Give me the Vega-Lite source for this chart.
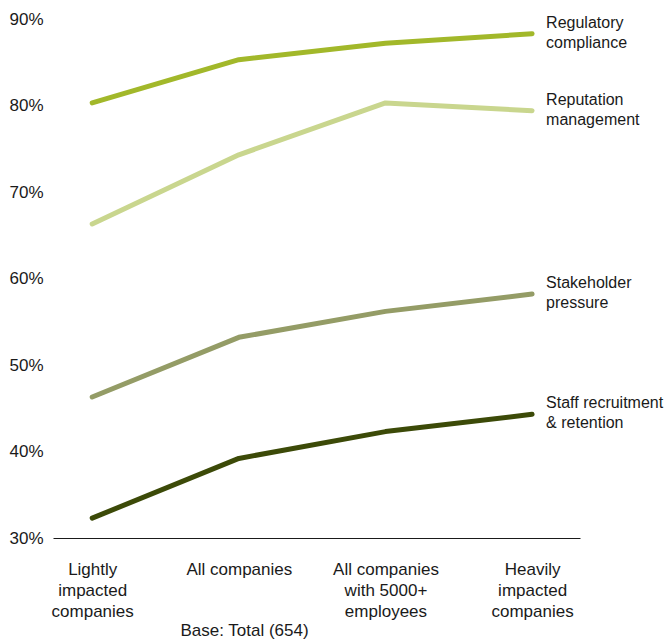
{
  "$schema": "https://vega.github.io/schema/vega-lite/v6.json",
  "width": 527,
  "height": 519,
  "autosize": {"type": "none"},
  "padding": {"left": 53, "top": 19, "right": 92, "bottom": 103},
  "config": {"view": {"stroke": null}, "font": "Liberation Sans"},
  "data": {
    "values": [
      {"series": "Regulatory compliance", "group": "Lightly impacted companies", "value": 80.3, "labelText": "Regulatory\ncompliance"},
      {"series": "Regulatory compliance", "group": "All companies", "value": 85.3, "labelText": "Regulatory\ncompliance"},
      {"series": "Regulatory compliance", "group": "All companies with 5000+ employees", "value": 87.2, "labelText": "Regulatory\ncompliance"},
      {"series": "Regulatory compliance", "group": "Heavily impacted companies", "value": 88.3, "labelText": "Regulatory\ncompliance"},
      {"series": "Reputation management", "group": "Lightly impacted companies", "value": 66.3, "labelText": "Reputation\nmanagement"},
      {"series": "Reputation management", "group": "All companies", "value": 74.3, "labelText": "Reputation\nmanagement"},
      {"series": "Reputation management", "group": "All companies with 5000+ employees", "value": 80.3, "labelText": "Reputation\nmanagement"},
      {"series": "Reputation management", "group": "Heavily impacted companies", "value": 79.4, "labelText": "Reputation\nmanagement"},
      {"series": "Stakeholder pressure", "group": "Lightly impacted companies", "value": 46.3, "labelText": "Stakeholder\npressure"},
      {"series": "Stakeholder pressure", "group": "All companies", "value": 53.2, "labelText": "Stakeholder\npressure"},
      {"series": "Stakeholder pressure", "group": "All companies with 5000+ employees", "value": 56.2, "labelText": "Stakeholder\npressure"},
      {"series": "Stakeholder pressure", "group": "Heavily impacted companies", "value": 58.2, "labelText": "Stakeholder\npressure"},
      {"series": "Staff recruitment & retention", "group": "Lightly impacted companies", "value": 32.3, "labelText": "Staff recruitment\n& retention"},
      {"series": "Staff recruitment & retention", "group": "All companies", "value": 39.2, "labelText": "Staff recruitment\n& retention"},
      {"series": "Staff recruitment & retention", "group": "All companies with 5000+ employees", "value": 42.3, "labelText": "Staff recruitment\n& retention"},
      {"series": "Staff recruitment & retention", "group": "Heavily impacted companies", "value": 44.3, "labelText": "Staff recruitment\n& retention"}
    ]
  },
  "encoding": {
    "x": {
      "field": "group",
      "type": "nominal",
      "sort": ["Lightly impacted companies", "All companies", "All companies with 5000+ employees", "Heavily impacted companies"],
      "scale": {"type": "point", "padding": 0.297, "align": 0.45},
      "axis": {
        "title": "Base: Total (654)",
        "titleFont": "Liberation Sans",
        "titleFontSize": 17,
        "titleFontWeight": "normal",
        "titleColor": "#1a1a1a",
        "titleX": 191,
        "titleY": 92,
        "titleAlign": "center",
        "titleBaseline": "middle",
        "labelAngle": 0,
        "labelFontSize": 17,
        "labelColor": "#1a1a1a",
        "labelLineHeight": 21,
        "labelPadding": 23,
        "labelBaseline": "top",
        "ticks": false,
        "domainColor": "#1a1a1a",
        "domainWidth": 1,
        "grid": false,
        "labelExpr": "datum.label == 'Lightly impacted companies' ? ['Lightly','impacted','companies'] : datum.label == 'All companies with 5000+ employees' ? ['All companies','with 5000+','employees'] : datum.label == 'Heavily impacted companies' ? ['Heavily','impacted','companies'] : datum.label"
      }
    },
    "y": {
      "field": "value",
      "type": "quantitative",
      "scale": {"domain": [30, 90], "nice": false},
      "axis": {
        "title": null,
        "values": [30, 40, 50, 60, 70, 80, 90],
        "labelExpr": "datum.value + '%'",
        "labelFontSize": 17,
        "labelColor": "#1a1a1a",
        "labelPadding": 10,
        "ticks": false,
        "domain": false,
        "grid": false
      }
    },
    "color": {
      "field": "series",
      "type": "nominal",
      "scale": {
        "domain": ["Regulatory compliance", "Reputation management", "Stakeholder pressure", "Staff recruitment & retention"],
        "range": ["#a2b82a", "#c9d68e", "#949c66", "#3c4a08"]
      },
      "legend": null
    }
  },
  "layer": [
    {
      "mark": {"type": "line", "strokeWidth": 5, "strokeCap": "round", "strokeJoin": "round"}
    },
    {
      "transform": [{"filter": "datum.group == 'Heavily impacted companies'"}],
      "mark": {"type": "text", "align": "left", "baseline": "middle", "dx": 14, "dy": -11, "fontSize": 16, "lineHeight": 20, "lineBreak": "\n"},
      "encoding": {
        "text": {"field": "labelText"},
        "color": {"value": "#1a1a1a"}
      }
    }
  ]
}
